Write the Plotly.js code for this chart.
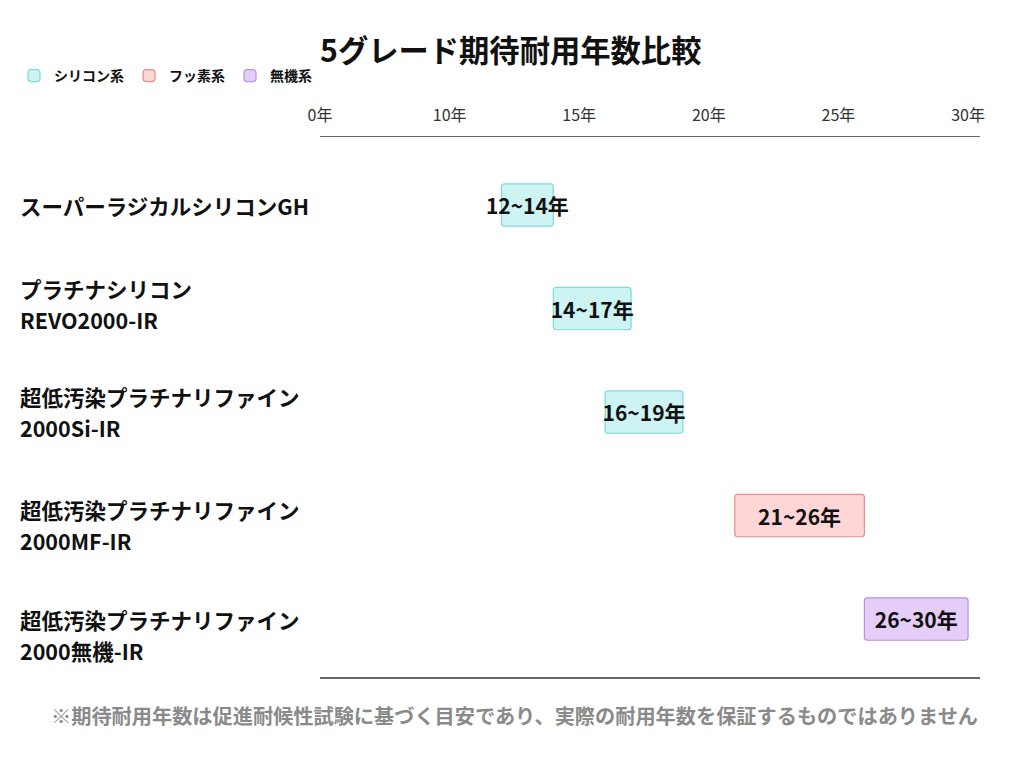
<!DOCTYPE html>
<html>
<head>
<meta charset="utf-8">
<script src="https://cdn.plot.ly/plotly-3.0.1.min.js"></script>
<style>html,body{margin:0;padding:0;background:#fff;}#chart{width:1024px;height:768px;}</style>
</head>
<body>
<div id="chart"></div>
<script>
// ---- data ----
const products = [
  'スーパーラジカルシリコンGH',
  'プラチナシリコン REVO2000-IR',
  '超低汚染プラチナリファイン 2000Si-IR',
  '超低汚染プラチナリファイン 2000MF-IR',
  '超低汚染プラチナリファイン 2000無機-IR'
];
const startYears = [12, 14, 16, 21, 26];
const endYears = [14, 17, 19, 26, 30];
const productTypes = ['シリコン系', 'シリコン系', 'シリコン系', 'フッ素系', '無機系'];
const typeNames = ['シリコン系', 'フッ素系', '無機系'];
const typeFills = ['#cdf3f3', '#ffd6d6', '#e4cdf7'];
const typeBorders = ['#7fd9d9', '#e88c8c', '#b893e0'];
const tickValues = [10, 15, 20, 25, 30];
const tickLabels = ['10年', '15年', '20年', '25年', '30年'];
const axisStartLabel = '0年';
const titleText = '5グレード期待耐用年数比較';
const noteText = '※期待耐用年数は促進耐候性試験に基づく目安であり、実際の耐用年数を保証するものではありません';

// ---- chart ----
const FONT = '"Noto Sans CJK JP", "Noto Sans", sans-serif';
const xMin = 5.0, xMax = 30.46;
const labelBlockShift = [0, -5, 0, 9, 16]; // px, downward, label block vs bar row
const LINE_GAP = 31;

const traces = typeNames.map((t, ti) => {
  const idx = products.map((_, i) => i).filter(i => productTypes[i] === t);
  return {
    type: 'bar',
    orientation: 'h',
    name: t,
    y: idx.map(i => products[i]),
    base: idx.map(i => startYears[i]),
    x: idx.map(i => endYears[i] - startYears[i]),
    text: idx.map(i => startYears[i] + '~' + endYears[i] + '年'),
    textposition: 'inside',
    insidetextanchor: 'middle',
    constraintext: 'none',
    cliponaxis: false,
    textfont: {family: FONT, size: 21, color: '#111', weight: 'bold'},
    width: 0.41,
    marker: {color: typeFills[ti], line: {color: typeBorders[ti], width: 1.2}, cornerradius: 3},
    hovertemplate: '%{y}: %{text}<extra></extra>'
  };
});

const annotations = [];
products.forEach((p, i) => {
  const lines = p.split(' ');
  lines.forEach((ln, k) => {
    const offset = (k - (lines.length - 1) / 2) * LINE_GAP + labelBlockShift[i];
    annotations.push({
      xref: 'paper', yref: 'y',
      x: -0.4576, y: p,
      xanchor: 'left', yanchor: 'middle', align: 'left',
      yshift: -offset,
      text: ln,
      showarrow: false,
      font: {family: FONT, size: 21.5, color: '#111', weight: 'bold'}
    });
  });
});
annotations.push({
  xref: 'paper', yref: 'paper',
  x: 0.295, y: -0.072,
  xanchor: 'center', yanchor: 'middle',
  text: noteText, showarrow: false,
  font: {family: FONT, size: 20.2, color: '#8a8a8a', weight: 'bold'}
});

const layout = {
  width: 1024, height: 768,
  paper_bgcolor: '#ffffff', plot_bgcolor: '#ffffff',
  margin: {l: 320, r: 44, t: 137, b: 91},
  font: {family: FONT, color: '#333'},
  title: {
    text: titleText,
    x: 0.3125, xanchor: 'left', xref: 'container',
    y: 0.933, yanchor: 'middle', yref: 'container',
    font: {family: FONT, size: 30.3, color: '#111', weight: 'bold'}
  },
  barmode: 'overlay',
  showlegend: true,
  legend: {
    orientation: 'h',
    x: -0.4636, xanchor: 'left',
    y: 1.113, yanchor: 'middle',
    font: {family: FONT, size: 14, color: '#111', weight: 'bold'},
    itemwidth: 30,
    traceorder: 'normal',
    bgcolor: 'rgba(0,0,0,0)'
  },
  xaxis: {
    side: 'top',
    range: [xMin, xMax],
    tickmode: 'array',
    tickvals: [xMin].concat(tickValues),
    ticktext: [axisStartLabel].concat(tickLabels),
    ticks: 'outside', ticklen: 8, tickcolor: 'rgba(0,0,0,0)',
    tickfont: {family: FONT, size: 16, color: '#333'},
    showgrid: false, zeroline: false,
    showline: true, linecolor: '#666', linewidth: 1.5, mirror: true,
    fixedrange: true
  },
  yaxis: {
    type: 'category',
    categoryorder: 'array',
    categoryarray: products,
    range: [4.56, -0.657],
    showticklabels: false,
    showgrid: false, zeroline: false, showline: false,
    ticks: '',
    fixedrange: true
  },
  annotations: annotations
};

Plotly.newPlot('chart', traces, layout, {displayModeBar: false, staticPlot: true});
</script>
</body>
</html>
